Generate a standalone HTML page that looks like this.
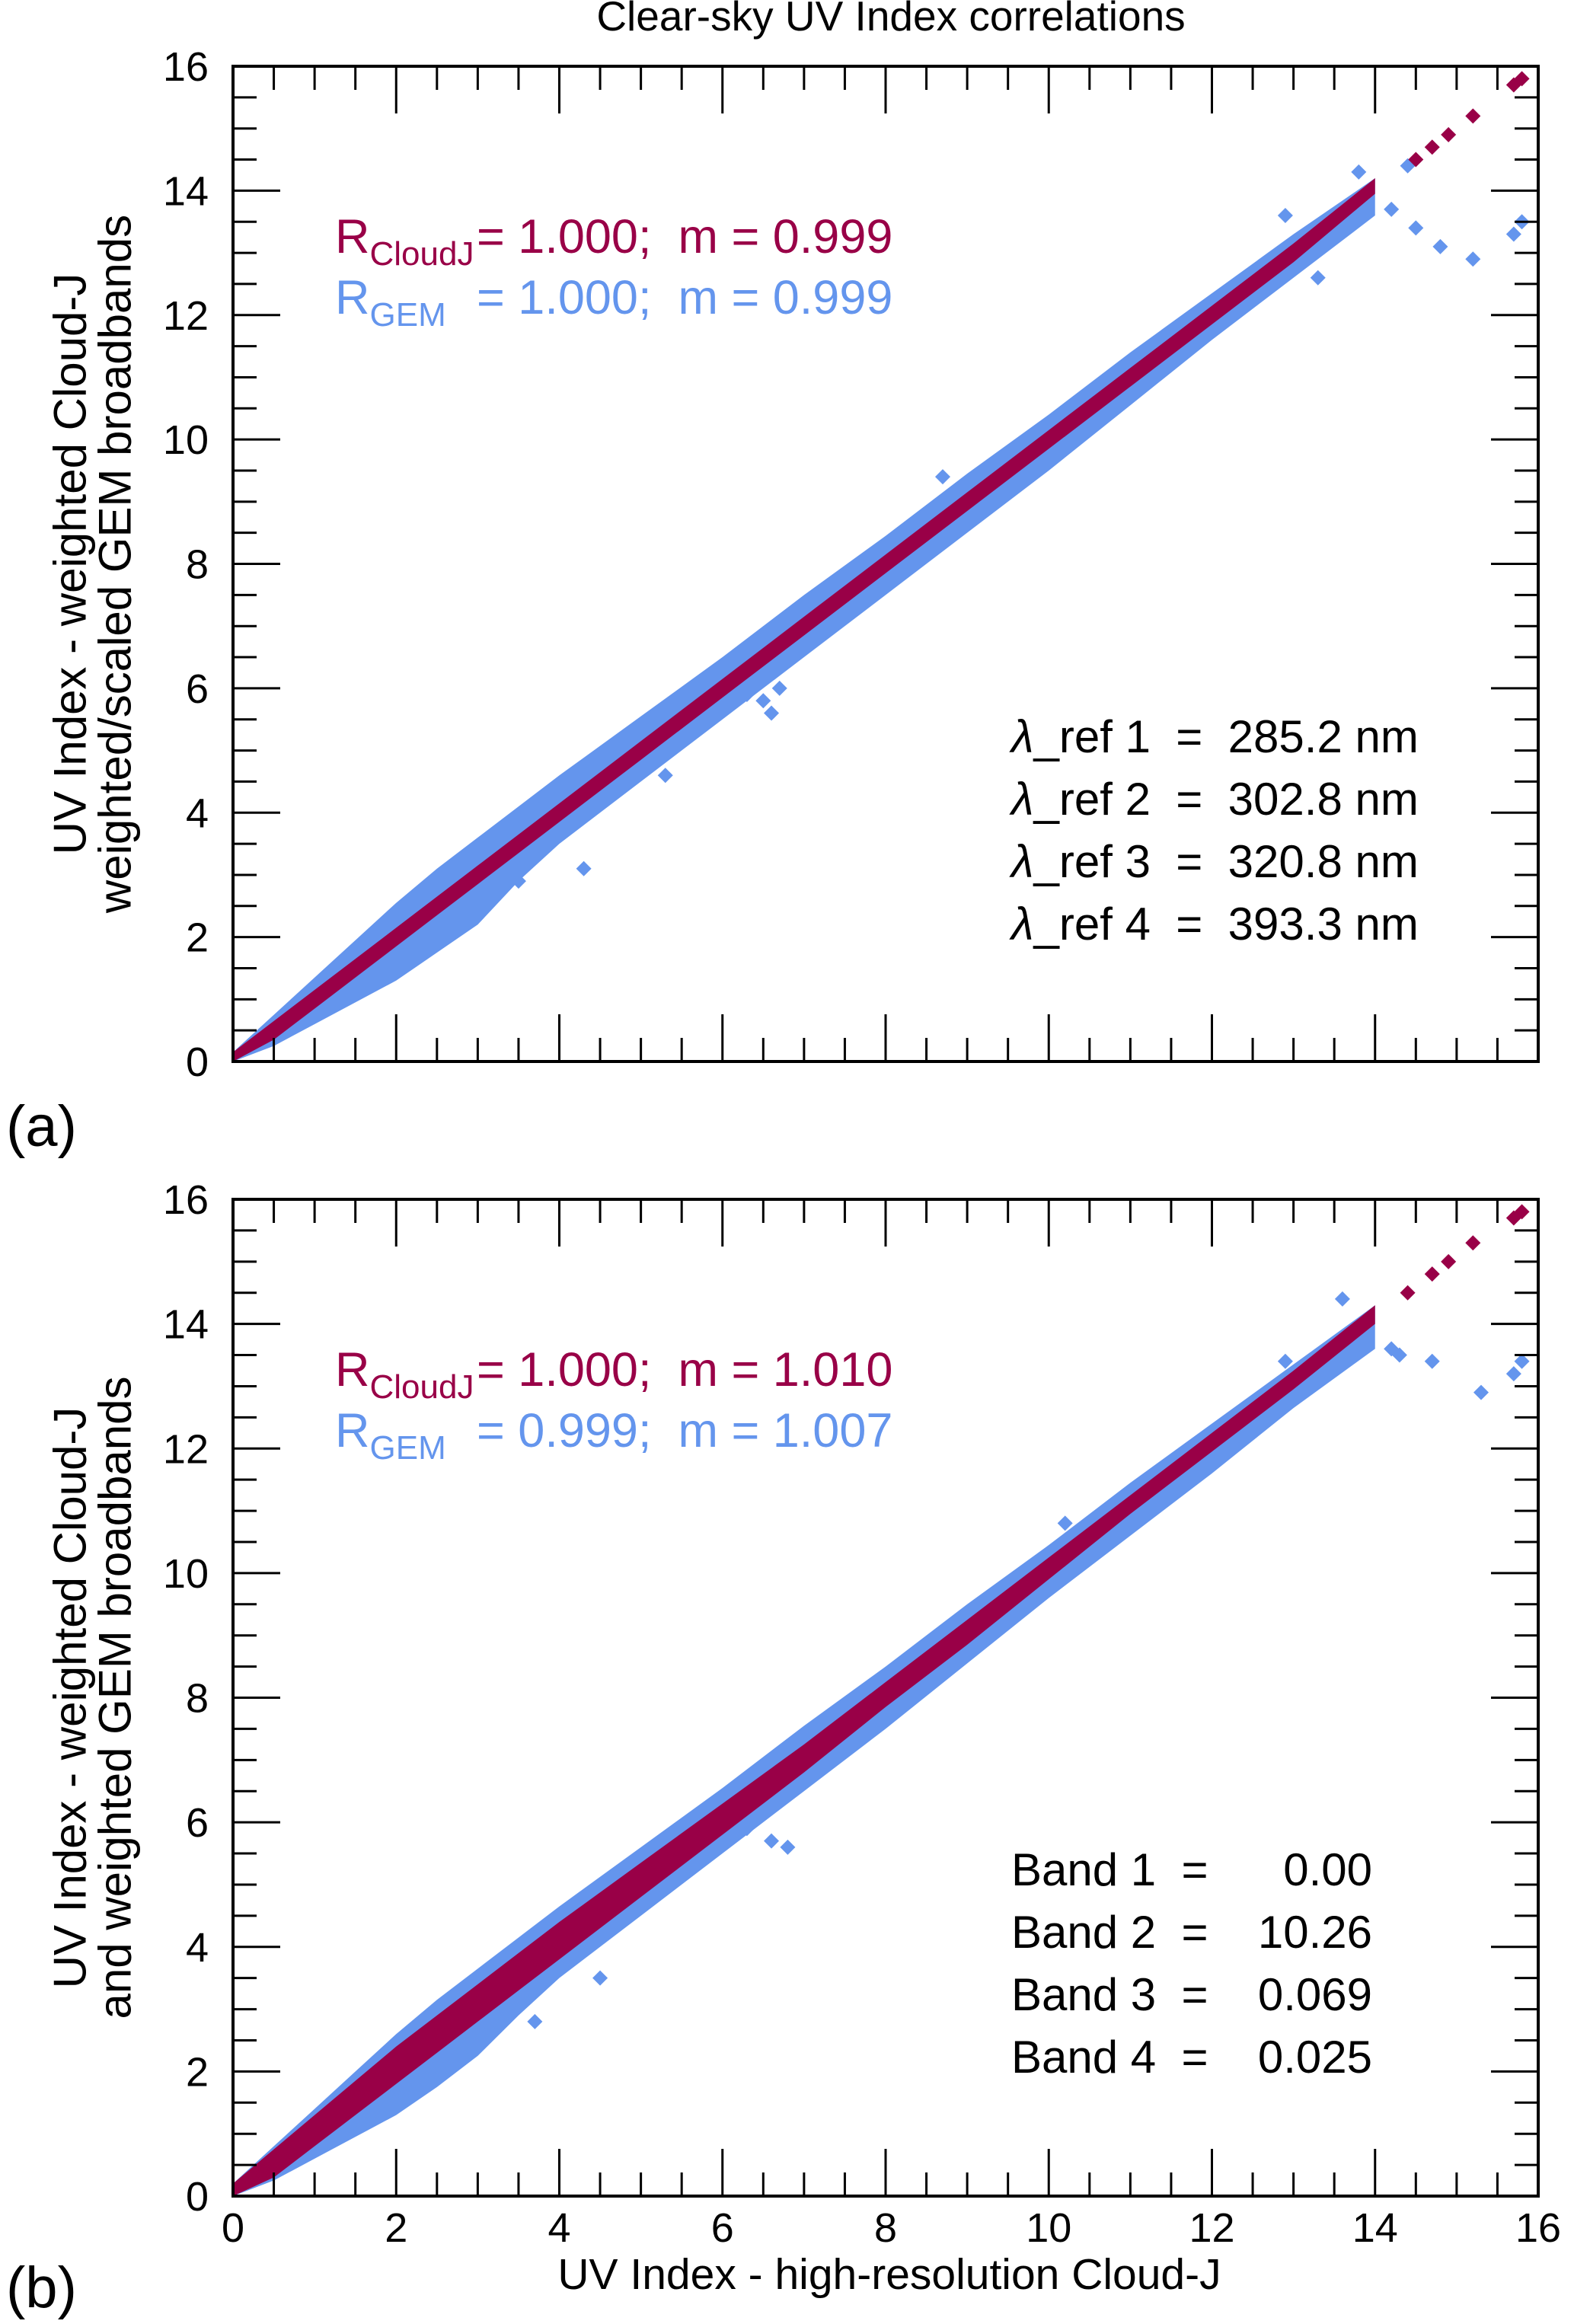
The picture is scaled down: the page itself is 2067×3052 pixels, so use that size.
<!DOCTYPE html>
<html><head><meta charset="utf-8"><style>
html,body{margin:0;padding:0;background:#fff}
svg{display:block;font-family:"Liberation Sans",Arial,sans-serif}
</style></head><body>
<svg id="fig" width="2067" height="3052" viewBox="0 0 2067 3052" xmlns="http://www.w3.org/2000/svg">
<text x="1170" y="40" font-size="55" text-anchor="middle">Clear-sky UV Index correlations</text>
<text x="8" y="1505" font-size="76">(a)</text>
<text x="8" y="3030" font-size="76">(b)</text>
<text x="1168" y="3006" font-size="57" text-anchor="middle">UV Index - high-resolution Cloud-J</text>
<g id="pa"></g>
<g id="pb"></g>
</svg>
<script>
// shared axis data
const xTicks = [0,2,4,6,8,10,12,14,16];
const yTicks = [0,2,4,6,8,10,12,14,16];
const bandX = [0,0.5,1,1.5,2,2.5,3,3.5,4,5,6,7,8,9,10,11,12,13,14];
// panel a
const aBlueHigh = [0.15,0.75,1.35,1.95,2.55,3.1,3.6,4.1,4.6,5.55,6.5,7.5,8.45,9.45,10.4,11.4,12.35,13.3,14.2];
const aBlueLow  = [0,0.25,0.6,0.95,1.3,1.75,2.2,2.9,3.5,4.5,5.5,6.5,7.5,8.5,9.5,10.55,11.6,12.6,13.6];
const aRedHigh  = [0.15,0.65,1.15,1.65,2.15,2.65,3.15,3.65,4.15,5.15,6.15,7.15,8.15,9.15,10.15,11.15,12.15,13.15,14.2];
const aRedLow   = [0,0.35,0.85,1.35,1.85,2.35,2.85,3.35,3.85,4.85,5.85,6.85,7.85,8.85,9.85,10.85,11.85,12.85,13.95];
const aRedPtsX  = [14.5,14.7,14.9,15.2,15.7,15.8];
const aRedPtsY  = [14.5,14.7,14.9,15.2,15.7,15.8];
const aBlueOutX = [14.5,14.8,15.2,15.7,15.8,13.8,14.2,6.5,6.7,6.6,6.3,4.3,3.5,5.3,8.7,12.9,13.3,14.4];
const aBlueOutY = [13.4,13.1,12.9,13.3,13.5,14.3,13.7,5.8,6.0,5.6,5.9,3.1,2.9,4.6,9.4,13.6,12.6,14.4];
// panel b
const bBlueHigh = [0.2,0.8,1.4,2.0,2.6,3.15,3.65,4.15,4.65,5.6,6.55,7.55,8.5,9.5,10.45,11.45,12.4,13.35,14.3];
const bBlueLow  = [0,0.25,0.6,0.95,1.3,1.75,2.25,2.9,3.5,4.5,5.5,6.5,7.5,8.55,9.6,10.6,11.6,12.65,13.6];
const bRedHigh  = [0.2,0.75,1.3,1.85,2.4,2.9,3.4,3.9,4.4,5.35,6.3,7.25,8.25,9.25,10.25,11.25,12.25,13.25,14.3];
const bRedLow   = [0,0.3,0.8,1.3,1.8,2.3,2.8,3.3,3.8,4.8,5.8,6.8,7.85,8.85,9.9,10.95,11.95,12.95,14.0];
const bRedPtsX  = [14.4,14.7,14.9,15.2,15.7,15.8];
const bRedPtsY  = [14.5,14.8,15.0,15.3,15.7,15.8];
const bBlueOutX = [10.2,6.6,6.3,6.8,3.7,4.5,15.7,15.3,14.7,14.3,15.8,13.6,14.2,12.9];
const bBlueOutY = [10.8,5.7,5.9,5.6,2.8,3.5,13.2,12.9,13.4,13.5,13.4,14.4,13.6,13.4];

const NS='http://www.w3.org/2000/svg';
const X0=306, X1=2020;
function xs(v){return X0+(X1-X0)*v/16;}
function mk(tag,attrs,parent){const e=document.createElementNS(NS,tag);for(const k in attrs)e.setAttribute(k,attrs[k]);parent.appendChild(e);return e;}

function panel(g,top,bot,o){
  const ys=v=>bot-(bot-top)*v/16;
  let pts=bandX.map((x,i)=>xs(x)+','+ys(o.bh[i])).concat(bandX.slice().reverse().map((x,j)=>{const i=bandX.length-1-j;return xs(x)+','+ys(o.bl[i]);}));
  const bb=mk('polygon',{points:pts.join(' '),fill:'#6495ED'},g);
  
  
  o.box.forEach((x,i)=>{const cx=xs(x),cy=ys(o.boy[i]);const d=mk('polygon',{points:`${cx},${cy-10} ${cx+10},${cy} ${cx},${cy+10} ${cx-10},${cy}`,fill:'#6495ED'},g);
    
    });
  pts=bandX.map((x,i)=>xs(x)+','+ys(o.rh[i])).concat(bandX.slice().reverse().map((x,j)=>{const i=bandX.length-1-j;return xs(x)+','+ys(o.rl[i]);}));
  const rb=mk('polygon',{points:pts.join(' '),fill:'#990047'},g);
  
  
  o.rx.forEach((x,i)=>{const cx=xs(x),cy=ys(o.ry[i]);const d=mk('polygon',{points:`${cx},${cy-10} ${cx+10},${cy} ${cx},${cy+10} ${cx-10},${cy}`,fill:'#990047'},g);
    
    });
  const fr=mk('rect',{x:X0,y:top,width:X1-X0,height:bot-top,fill:'none',stroke:'#000','stroke-width':4},g);
  
  
  for(let v=0;v<=16.001;v+=0.5){
    const maj=Math.abs(v%2)<1e-6, L=maj?62:31;
    const x=xs(v), y=ys(v);
    mk('line',{x1:x,y1:bot,x2:x,y2:bot-L,stroke:'#000','stroke-width':3},g);
    mk('line',{x1:x,y1:top,x2:x,y2:top+L,stroke:'#000','stroke-width':3},g);
    mk('line',{x1:X0,y1:y,x2:X0+L,y2:y,stroke:'#000','stroke-width':3},g);
    mk('line',{x1:X1,y1:y,x2:X1-L,y2:y,stroke:'#000','stroke-width':3},g);
  }
  yTicks.forEach(v=>{const t=mk('text',{x:274,y:ys(v)+19,'font-size':54,'text-anchor':'end'},g);t.textContent=v;
    
    });
  if(o.xl) xTicks.forEach(v=>{const t=mk('text',{x:xs(v),y:bot+60,'font-size':54,'text-anchor':'middle'},g);t.textContent=v;
    
    });
  const cy=(top+bot)/2;
  o.yt.forEach((s,i)=>{const xx=[92,151][i];const t=mk('text',{x:xx,y:cy,'font-size':60,'text-anchor':'middle','dominant-baseline':'central',transform:`rotate(-90 ${xx} ${cy})`},g);t.textContent=s;
    
    });
  const s1=mk('text',{x:440,y:top+245,'font-size':63,fill:'#990047'},g);
  s1.innerHTML='R<tspan font-size="44" dy="16">CloudJ</tspan><tspan dy="-16" x="626">= '+o.s1+'</tspan>';
  
  
  const s2=mk('text',{x:440,y:top+325,'font-size':63,fill:'#6495ED'},g);
  s2.innerHTML='R<tspan font-size="44" dy="16">GEM</tspan><tspan dy="-16" x="626">= '+o.s2+'</tspan>';
  
  
  o.notes.forEach((n,i)=>{const t=mk('text',{x:1328,y:top+901+i*82,'font-size':60},g);t.innerHTML=n;
    
    });
}
const sp='\u00a0';
panel(document.getElementById('pa'),87,1394,{bh:aBlueHigh,bl:aBlueLow,rh:aRedHigh,rl:aRedLow,rx:aRedPtsX,ry:aRedPtsY,box:aBlueOutX,boy:aBlueOutY,xl:false,
  yt:['UV Index - weighted Cloud-J','weighted/scaled GEM broadbands'],s1:'1.000;'+sp+sp+'m'+sp+'='+sp+'0.999',s2:'1.000;'+sp+sp+'m'+sp+'='+sp+'0.999',
  notes:['<tspan font-style="italic">λ</tspan>_ref 1'+sp+' ='+sp+' 285.2 nm','<tspan font-style="italic">λ</tspan>_ref 2'+sp+' ='+sp+' 302.8 nm','<tspan font-style="italic">λ</tspan>_ref 3'+sp+' ='+sp+' 320.8 nm','<tspan font-style="italic">λ</tspan>_ref 4'+sp+' ='+sp+' 393.3 nm']});
panel(document.getElementById('pb'),1575,2884,{bh:bBlueHigh,bl:bBlueLow,rh:bRedHigh,rl:bRedLow,rx:bRedPtsX,ry:bRedPtsY,box:bBlueOutX,boy:bBlueOutY,xl:true,
  yt:['UV Index - weighted Cloud-J','and weighted GEM broadbands'],s1:'1.000;'+sp+sp+'m'+sp+'='+sp+'1.010',s2:'0.999;'+sp+sp+'m'+sp+'='+sp+'1.007',
  notes:['Band 1'+sp+' ='+sp+' <tspan x="1802" text-anchor="end">0.00</tspan>','Band 2'+sp+' ='+sp+' <tspan x="1802" text-anchor="end">10.26</tspan>','Band 3'+sp+' ='+sp+' <tspan x="1802" text-anchor="end">0.069</tspan>','Band 4'+sp+' ='+sp+' <tspan x="1802" text-anchor="end">0.025</tspan>']});
</script>
</body></html>
